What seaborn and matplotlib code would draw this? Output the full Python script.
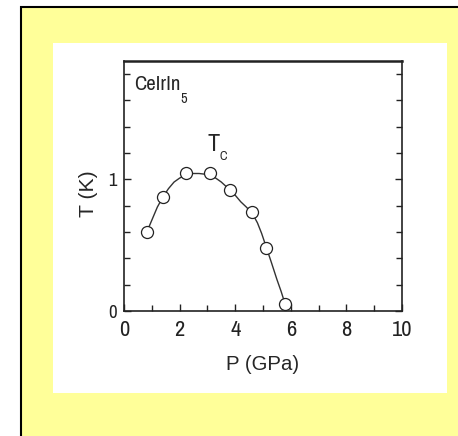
import matplotlib
matplotlib.use("Agg")
import matplotlib.pyplot as plt
from matplotlib.patches import Rectangle
from matplotlib.ticker import MultipleLocator, FixedLocator
from matplotlib.textpath import TextPath
from matplotlib.font_manager import FontProperties
import seaborn as sns
import pandas as pd

# Measured data points (Tc vs pressure)
pressure = [0.82, 1.41, 2.23, 3.11, 3.81, 4.62, 5.11, 5.79]
tc = [0.60, 0.87, 1.05, 1.05, 0.92, 0.75, 0.48, 0.05]

# Guide curve drawn in the figure
curve_p = [0.82, 1.0, 1.2, 1.41, 1.6, 1.8, 2.0, 2.23, 2.45, 2.7, 2.9, 3.11, 3.3, 3.5, 3.81, 4.0, 4.2, 4.4, 4.62, 4.8, 4.95, 5.11, 5.3, 5.5, 5.65, 5.8]
curve_t = [0.60, 0.69, 0.79, 0.87, 0.93, 0.98, 1.01, 1.035, 1.045, 1.045, 1.04, 1.03, 1.01, 0.98, 0.92, 0.88, 0.83, 0.79, 0.74, 0.67, 0.59, 0.49, 0.37, 0.24, 0.15, 0.05]

x_ticks = [0, 2, 4, 6, 8, 10]
x_ticklabels = ["0", "2", "4", "6", "8", "10"]
y_ticks = [0, 1]
y_ticklabels = ["0", "1"]

sns.set_style("ticks")
FAM = ['Archivo Narrow', 'Liberation Sans', 'DejaVu Sans']
LAB = ['Liberation Sans', 'DejaVu Sans']
plt.rcParams['font.family'] = FAM

DPI = 100
W, H = 458, 436

def fit(sample, px, fam=FAM):
    """font size (pt) so that the glyphs of `sample` are `px` pixels tall"""
    fp = FontProperties(family=fam)
    ext = TextPath((0, 0), sample, size=1, prop=fp).get_extents()
    return px / (ext.height * DPI / 72.0)

fs_xtick = fit("0", 16.0)
fs_ytick = fit("0", 13.3)
fs_xlab = fit("P", 14.0, LAB)
fs_ylab = fit("T", 14.5, LAB)
fs_name = fit("C", 14.7)
fs_sub5 = fit("5", 10.0)
fs_T = fit("T", 16.7)
fs_c = fit("C", 9.0)

fig = plt.figure(figsize=(W / DPI, H / DPI), dpi=DPI)
fig.patch.set_facecolor("white")

def px_rect(x0, y0, x1, y1, **kw):
    return Rectangle((x0 / W, 1 - y1 / H), (x1 - x0) / W, (y1 - y0) / H,
                     transform=fig.transFigure, zorder=-5, **kw)

fig.patches.append(px_rect(21, 7, 470, 450, facecolor="#FFFF99", edgecolor="black", linewidth=1.5))
fig.patches.append(px_rect(53, 43, 447, 393, facecolor="white", edgecolor="none"))

ax = fig.add_axes([124 / W, (H - 311) / H, 278 / W, 250 / H])
ax.set_zorder(5)
ax.set_facecolor("white")

curve_df = pd.DataFrame({"P": curve_p, "T": curve_t})
pts_df = pd.DataFrame({"P": pressure, "T": tc})

sns.lineplot(data=curve_df, x="P", y="T", ax=ax, color="#333333", linewidth=1.0,
             sort=False, estimator=None)
sns.scatterplot(data=pts_df, x="P", y="T", ax=ax, s=75, facecolor="white",
                edgecolor="#222222", linewidth=0.9, zorder=5, clip_on=False)

ax.set_xlim(0, 10)
ax.set_ylim(0, 1.9)
ax.xaxis.set_major_locator(FixedLocator(x_ticks))
ax.set_xticklabels(x_ticklabels)
ax.xaxis.set_minor_locator(MultipleLocator(1))
ax.yaxis.set_major_locator(FixedLocator(y_ticks))
ax.set_yticklabels(y_ticklabels)
ax.yaxis.set_minor_locator(MultipleLocator(0.2))

ax.tick_params(axis="both", which="both", direction="in", top=False, right=True,
               colors="#222222", width=1.0)
ax.tick_params(axis="both", which="major", length=5)
ax.tick_params(axis="both", which="minor", length=4)
ax.tick_params(axis="x", which="major", labelsize=fs_xtick, pad=6.5)
ax.tick_params(axis="y", which="major", labelsize=fs_ytick, pad=5.3)

for side, sp in ax.spines.items():
    sp.set_visible(True)
    sp.set_color("#222222")
    sp.set_linewidth(1.2)
ax.spines["top"].set_linewidth(1.8)

ax.set_xlabel("P (GPa)", fontsize=fs_xlab, family=LAB)
ax.set_ylabel("T (K)", fontsize=fs_ylab, family=LAB)
ax.xaxis.set_label_coords(0.5, -0.175)
ax.yaxis.set_label_coords(-0.095, 0.47)

ax.text(0.037, 0.884, "CeIrIn", transform=ax.transAxes, fontsize=fs_name,
        ha="left", va="baseline")
ax.text(0.204, 0.832, "5", transform=ax.transAxes, fontsize=fs_sub5,
        ha="left", va="baseline")
ax.text(2.99, 1.218, "T", fontsize=fs_T, ha="left", va="baseline")
ax.text(3.45, 1.144, "C", fontsize=fs_c, ha="left", va="baseline")

fig.savefig("out.png", dpi=DPI)
